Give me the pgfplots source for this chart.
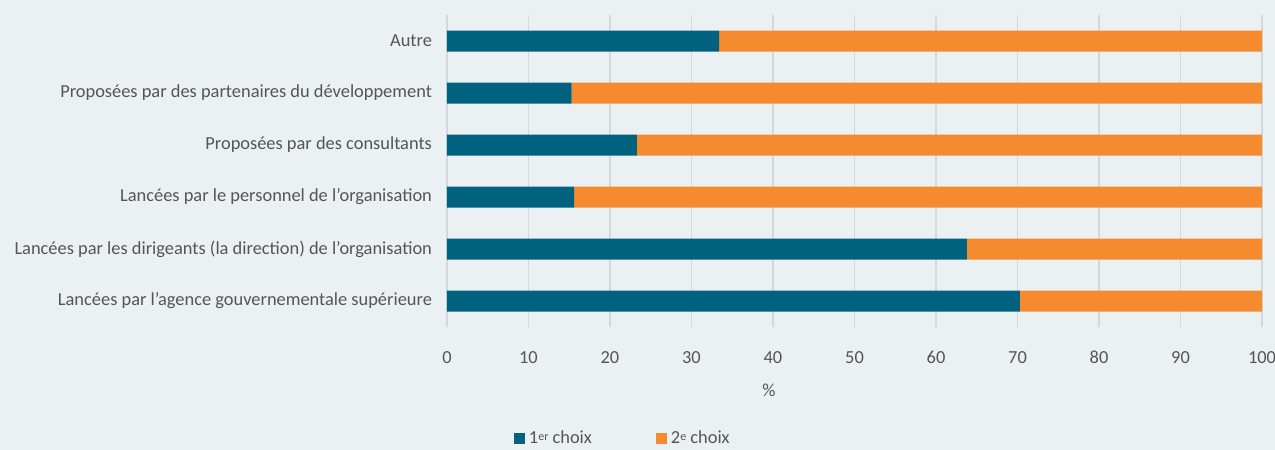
\documentclass[border=0pt]{standalone}
\usepackage{pgfplots}
\pgfplotsset{compat=1.18}
\usepackage{fontspec}
\setmainfont{Carlito}
\definecolor{bg}{HTML}{EBF0F3}
\definecolor{tealc}{HTML}{00627F}
\definecolor{orng}{HTML}{F58A2E}
\definecolor{txt}{HTML}{555555}
\definecolor{gridc}{HTML}{D5D8DA}
\begin{document}
\begin{tikzpicture}
\fill[bg] (-223.5pt,-61.5pt) rectangle (414pt,163.5pt);
\useasboundingbox (-223.5pt,-61.5pt) rectangle (414pt,163.5pt);
\begin{axis}[
  at={(0,0)}, anchor=south west,
  scale only axis, width=407.5pt, height=156pt,
  xbar stacked, bar width=10.5pt,
  xmin=0, xmax=100, ymin=-0.5, ymax=5.5,
  xtick={0,10,...,100},
  ytick={0,...,5},
  yticklabels={Lancées par l’agence gouvernementale supérieure,
    Lancées par les dirigeants (la direction) de l’organisation,
    Lancées par le personnel de l’organisation,
    Proposées par des consultants,
    Proposées par des partenaires du développement,
    Autre},
  axis line style={draw=none},
  tick style={draw=none},
  xmajorgrids, grid style={gridc, line width=0.6pt},
  /pgf/number format/assume math mode=true,
  tick label style={font=\fontsize{9.2}{10}\selectfont, text=txt},
  xticklabel style={yshift=-8.5pt},
  yticklabel style={xshift=-4pt},
  xlabel={\%}, xlabel style={at={(ticklabel cs:0.395)}, font=\fontsize{9.2}{10}\selectfont, text=txt, yshift=-3pt},
  legend style={at={(0.217,-0.358)}, anchor=center, draw=none, fill=none,
    legend columns=2, font=\fontsize{9.2}{10}\selectfont, text=txt,
    /tikz/every even column/.append style={column sep=30pt}},
  legend image code/.code={\fill (0pt,-2.75pt) rectangle (5.5pt,2.75pt);},
]
\addplot[fill=tealc, draw=none] coordinates {(70.3,0) (63.8,1) (15.6,2) (23.3,3) (15.3,4) (33.4,5)};
\addplot[fill=orng, draw=none] coordinates {(29.7,0) (36.2,1) (84.4,2) (76.7,3) (84.7,4) (66.6,5)};
\legend{1{\fontsize{6}{6}\selectfont\raisebox{0.6ex}{er}} choix, 2{\fontsize{6}{6}\selectfont\raisebox{0.6ex}{e}} choix}
\end{axis}
\end{tikzpicture}
\end{document}
